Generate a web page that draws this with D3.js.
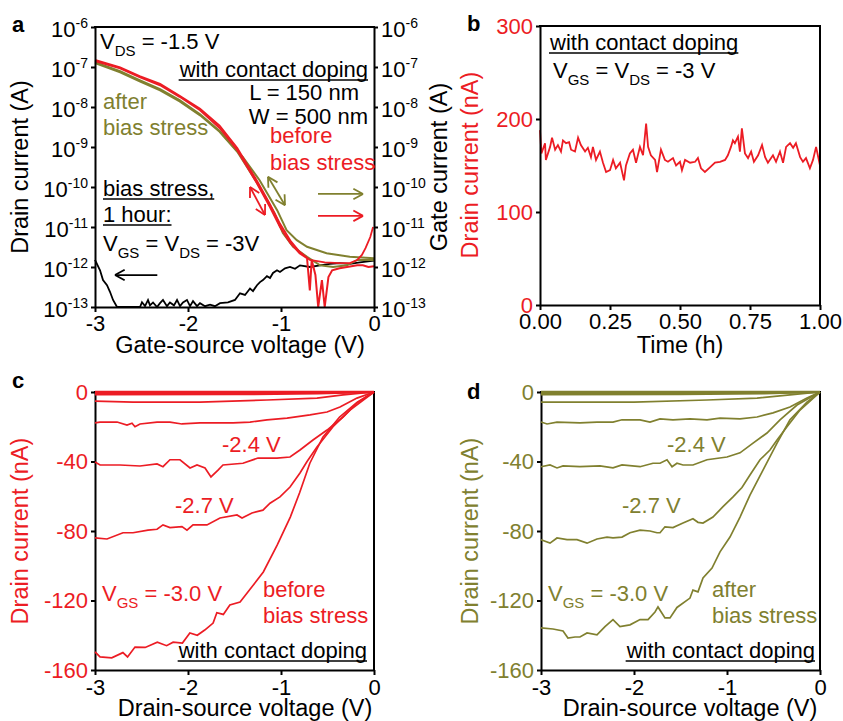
<!DOCTYPE html>
<html>
<head>
<meta charset="utf-8">
<script src="https://cdn.jsdelivr.net/npm/d3@7"></script>
<style>
body { margin: 0; background: #fff; }
text { font-family: "Liberation Sans", Arial, sans-serif; }
</style>
</head>
<body>
<div id="chart"></div>
<script>
var width = 843,
    height = 721;

var RED = '#ec1c24',
    OLIVE = '#80802f',
    FS = 22,
    TITLE_FS = 23.5;

// ---- panel a: transfer curves (V_GS in V, current in A)
var aV1 = [-3, -2.73, -2.52, -2.30, -2.09, -1.87, -1.66, -1.47, -1.26, -1.12, -1.01, -0.90, -0.80, -0.72, -0.69, -0.67, -0.63, -0.60, -0.56, -0.53, -0.49, -0.45, -0.37, -0.29, -0.18, -0.12, -0.06, 0];
var aRedFwd = [1.41e-7, 9.3e-8, 5.6e-8, 3.5e-8, 1.8e-8, 8.3e-9, 3.0e-9, 8.3e-10, 1.26e-10, 3.2e-11, 1.0e-11, 4.0e-12, 2.2e-12, 1.66e-12, 2.6e-13, 1.5e-12, 6.3e-13, 1.0e-13, 4.7e-13, 1.0e-13, 5.6e-13, 8.3e-13, 9.3e-13, 1.0e-12, 1.1e-12, 1.1e-12, 1.0e-12, 1.05e-12];

var aV2 = [-3, -2.73, -2.52, -2.30, -2.09, -1.87, -1.66, -1.47, -1.26, -1.12, -1.01, -0.90, -0.80, -0.69, -0.53, -0.37, -0.26, -0.18, -0.13, -0.09, -0.04, -0.01];
var aRedRev = [1.5e-7, 9.8e-8, 5.9e-8, 3.8e-8, 1.9e-8, 9.0e-9, 3.4e-9, 9.5e-10, 1.45e-10, 3.8e-11, 1.2e-11, 4.6e-12, 2.4e-12, 1.5e-12, 1.3e-12, 1.25e-12, 1.25e-12, 1.5e-12, 2.0e-12, 3.0e-12, 5.6e-12, 1.0e-11];

var aV3 = [-3, -2.73, -2.52, -2.30, -2.09, -1.87, -1.66, -1.47, -1.41, -1.23, -1.04, -0.94, -0.83, -0.72, -0.51, -0.26, 0];
var aOliveFwd = [1.32e-7, 7.9e-8, 4.7e-8, 2.8e-8, 1.48e-8, 6.6e-9, 2.5e-9, 7.9e-10, 5.6e-10, 1.48e-10, 2.6e-11, 8.3e-12, 4.7e-12, 3.2e-12, 2.2e-12, 1.8e-12, 1.66e-12];

var aV4 = [-3, -2.73, -2.52, -2.30, -2.09, -1.87, -1.66, -1.47, -1.26, -1.07, -0.98, -0.87, -0.72, -0.58, -0.44, -0.29, -0.18, 0];
var aOliveRev = [1.25e-7, 7.4e-8, 4.4e-8, 2.6e-8, 1.38e-8, 6.2e-9, 2.4e-9, 7.6e-10, 1.3e-10, 2.2e-11, 7.1e-12, 3.2e-12, 1.8e-12, 1.1e-12, 1.0e-12, 1.1e-12, 1.5e-12, 1.5e-12];

var aVGate = [-3, -2.946, -2.914, -2.871, -2.839, -2.806, -2.763, -2.516, -2.495, -2.462, -2.430, -2.409, -2.376, -2.333, -2.301, -2.269, -2.226, -2.194, -2.151, -2.118, -2.086, -2.054, -2.011, -1.978, -1.946, -1.903, -1.871, -1.817, -1.763, -1.710, -1.656, -1.570, -1.495, -1.441, -1.387, -1.333, -1.301, -1.258, -1.226, -1.194, -1.151, -1.118, -1.086, -1.043, -1.011, -0.957, -0.903, -0.849, -0.796, -0.688, -0.581, -0.473, -0.366, -0.258, -0.151, 0];
var aGate = [1.5e-12, 8.3e-13, 4.7e-13, 3.5e-13, 2.4e-13, 1.5e-13, 1e-13, 1e-13, 1.32e-13, 1.05e-13, 1.5e-13, 1.1e-13, 1.3e-13, 1e-13, 1.25e-13, 1.5e-13, 1.05e-13, 1.3e-13, 1.1e-13, 1.5e-13, 1.05e-13, 1.3e-13, 1.5e-13, 1.05e-13, 1.4e-13, 1.05e-13, 1.25e-13, 1.05e-13, 1.15e-13, 1.05e-13, 1.25e-13, 1.3e-13, 1.5e-13, 2.2e-13, 2.0e-13, 2.9e-13, 2.5e-13, 3.5e-13, 4.2e-13, 4.7e-13, 5.9e-13, 5.3e-13, 7.1e-13, 8.3e-13, 7.5e-13, 9.3e-13, 1.0e-12, 9.0e-13, 1.1e-12, 1.0e-12, 1.1e-12, 1.2e-12, 1.25e-12, 1.2e-12, 1.3e-12, 1.45e-12];

var aDecades = [1e-13, 1e-12, 1e-11, 1e-10, 1e-9, 1e-8, 1e-7, 1e-6];
var vTicks = [-3, -2, -1, 0];

// ---- panel b: drain current during bias stress (h, nA)
var bTime = [0, 0.005, 0.018, 0.021, 0.036, 0.043, 0.054, 0.064, 0.075, 0.082, 0.093, 0.104, 0.111, 0.125, 0.136, 0.146, 0.161, 0.171, 0.182, 0.189, 0.2, 0.214, 0.225, 0.236, 0.25, 0.261, 0.271, 0.286, 0.3, 0.307, 0.321, 0.332, 0.343, 0.357, 0.368, 0.379, 0.386, 0.396, 0.411, 0.418, 0.432, 0.446, 0.457, 0.475, 0.486, 0.5, 0.507, 0.518, 0.536, 0.554, 0.564, 0.575, 0.589, 0.607, 0.625, 0.643, 0.661, 0.671, 0.682, 0.689, 0.696, 0.707, 0.714, 0.721, 0.732, 0.743, 0.754, 0.764, 0.779, 0.793, 0.804, 0.814, 0.832, 0.843, 0.857, 0.868, 0.879, 0.893, 0.904, 0.914, 0.929, 0.939, 0.95, 0.964, 0.975, 0.986, 1.0];
var bCurrent = [188, 163, 174, 156, 170, 180, 167, 172, 165, 177, 174, 175, 167, 165, 180, 172, 165, 169, 159, 170, 156, 165, 153, 143, 145, 156, 147, 153, 134, 150, 163, 167, 153, 170, 161, 195, 170, 161, 156, 143, 167, 156, 154, 158, 150, 154, 145, 156, 153, 154, 158, 147, 143, 148, 153, 154, 156, 161, 170, 177, 174, 181, 165, 190, 163, 158, 165, 154, 161, 172, 159, 153, 161, 154, 165, 153, 170, 174, 169, 174, 159, 154, 158, 147, 156, 170, 150];
var bTicksX = [0, 0.25, 0.5, 0.75, 1];
var bTicksY = [0, 100, 200, 300];

// ---- panel c: output curves before bias stress (V_DS in V, nA)
var cVgs30 = [[-3, -149.6], [-2.946, -152.5], [-2.82, -153], [-2.70, -150], [-2.65, -152.5], [-2.57, -146.8], [-2.46, -147], [-2.33, -144], [-2.23, -146], [-2.16, -144], [-2.06, -144.5], [-1.98, -138.7], [-1.90, -140], [-1.82, -137], [-1.73, -133], [-1.69, -127], [-1.62, -128], [-1.55, -122.6], [-1.44, -120.9], [-1.31, -112], [-1.19, -103.6], [-1.04, -88], [-0.90, -72], [-0.80, -58], [-0.69, -41], [-0.55, -26], [-0.37, -14.4], [-0.18, -5.8], [0, 0]];
var cVgs27 = [[-3, -84], [-2.871, -84.6], [-2.699, -81], [-2.591, -81], [-2.430, -79.5], [-2.333, -79], [-2.269, -76.5], [-2.194, -78], [-2.065, -77.5], [-2.011, -79.5], [-1.946, -76.5], [-1.796, -76.5], [-1.656, -72.5], [-1.473, -70.8], [-1.419, -72.5], [-1.312, -69.6], [-1.194, -68], [-1.118, -64], [-1.011, -60.4], [-0.903, -54.7], [-0.796, -46.6], [-0.720, -40], [-0.613, -31.7], [-0.441, -20], [-0.258, -10.4], [0, 0]];
var cVgs24 = [[-3, -40.3], [-2.946, -42], [-2.731, -42], [-2.516, -42.6], [-2.333, -41.4], [-2.269, -43], [-2.194, -39], [-2.086, -39], [-1.978, -43.7], [-1.903, -42], [-1.817, -43.7], [-1.753, -48.9], [-1.677, -45], [-1.624, -42], [-1.409, -41], [-1.247, -38], [-1.043, -38], [-0.903, -37.4], [-0.796, -33.4], [-0.656, -27.6], [-0.505, -21.9], [-0.333, -14.4], [-0.183, -6.3], [0, 0]];
var cVgs21 = [[-3, -17.8], [-2.946, -17.3], [-2.763, -17.3], [-2.656, -19], [-2.602, -18], [-2.570, -20], [-2.516, -18.4], [-2.333, -17.3], [-2.194, -17.3], [-2.065, -18.4], [-1.871, -17.8], [-1.516, -17.8], [-1.333, -17.3], [-1.151, -16], [-0.935, -15], [-0.688, -13.2], [-0.505, -11.5], [-0.366, -8.6], [-0.183, -3.5], [0, 0]];
var cVgs18 = [[-3, -5.2], [-2.591, -5.8], [-2.23, -5.8], [-1.871, -5.8], [-1.151, -4.6], [-0.613, -3.5], [-0.333, -1.7], [0, 0]];
var cVgs15 = [[-3, -1.4], [-1.5, -1.3], [-0.6, -0.8], [0, 0]];
var cVgs12 = [[-3, -0.5], [-1, -0.45], [0, 0]];
var cVgs09 = [[-3, -0.1], [0, 0]];

// ---- panel d: output curves after bias stress
var dVgs30 = [[-3, -135.8], [-2.871, -136.4], [-2.763, -137.5], [-2.710, -141.6], [-2.634, -141], [-2.581, -141], [-2.505, -138.7], [-2.398, -139.8], [-2.312, -135], [-2.226, -131], [-2.151, -135], [-2.043, -134], [-1.935, -131], [-1.849, -131], [-1.774, -126.6], [-1.742, -123.7], [-1.667, -130], [-1.613, -130], [-1.538, -124], [-1.398, -118.6], [-1.366, -114], [-1.312, -115], [-1.258, -107], [-1.161, -101.3], [-1.075, -92], [-0.968, -83.5], [-0.860, -72], [-0.753, -59.3], [-0.613, -45], [-0.462, -29.4], [-0.323, -16], [-0.140, -5.8], [0, 0]];
var dVgs27 = [[-3, -85], [-2.903, -87], [-2.828, -84], [-2.720, -85], [-2.613, -85], [-2.505, -87], [-2.398, -84.6], [-2.290, -83.5], [-2.226, -84], [-2.129, -83.5], [-2.043, -81], [-1.935, -79.5], [-1.828, -80], [-1.753, -81], [-1.720, -81], [-1.667, -77.6], [-1.581, -78], [-1.473, -75.4], [-1.366, -73], [-1.312, -75], [-1.258, -75.4], [-1.151, -72], [-1.043, -66], [-0.935, -60.4], [-0.839, -55], [-0.753, -47.8], [-0.645, -39], [-0.538, -33.4], [-0.462, -27.6], [-0.355, -20], [-0.215, -10.4], [0, 0]];
var dVgs24 = [[-3, -43], [-2.903, -42], [-2.828, -43.7], [-2.763, -42.5], [-2.581, -43], [-2.366, -42.5], [-2.226, -43.7], [-2.129, -42], [-1.935, -43], [-1.796, -41], [-1.720, -41], [-1.645, -39], [-1.591, -43], [-1.538, -41], [-1.473, -42], [-1.366, -42], [-1.215, -39], [-1.0, -37.4], [-0.860, -35], [-0.720, -29.4], [-0.570, -23.6], [-0.430, -16], [-0.247, -7.5], [0, 0]];
var dVgs21 = [[-3, -17.3], [-2.935, -18.4], [-2.828, -17.3], [-2.581, -17.8], [-2.398, -17.3], [-2.226, -17.3], [-2.129, -16], [-1.935, -16], [-1.828, -17.3], [-1.720, -15.5], [-1.581, -16], [-1.398, -15.5], [-1.215, -16], [-1.075, -15], [-0.860, -15.5], [-0.677, -14.4], [-0.505, -12], [-0.323, -8.6], [-0.140, -3.5], [0, 0]];
var dVgs18 = [[-3, -5.8], [-2, -5.8], [-1.215, -4.6], [-0.677, -3.5], [-0.323, -1.7], [0, 0]];
var dVgs15 = [[-3, -1.4], [-1.5, -1.3], [-0.6, -0.8], [0, 0]];
var dVgs12 = [[-3, -0.5], [-1, -0.45], [0, 0]];
var dVgs09 = [[-3, -0.1], [0, 0]];

var outTicksY = [-160, -120, -80, -40, 0];

var svg = d3.select('#chart').append('svg')
    .attr('width', width)
    .attr('height', height);

// helpers
function styleAxis(g, labelColor) {
  g.attr('font-size', FS).attr('font-family', '"Liberation Sans", Arial, sans-serif');
  g.select('.domain').attr('stroke', '#000').attr('stroke-width', 2);
  g.selectAll('.tick line').attr('stroke', '#000').attr('stroke-width', 2);
  g.selectAll('.tick text').attr('fill', labelColor || '#000');
}

function expLabels(g) {
  g.selectAll('.tick text').each(function(d) {
    var t = d3.select(this);
    var e = Math.round(Math.log10(d));
    t.text(null).attr('dy', '0.42em');
    t.append('tspan').text('10');
    t.append('tspan').attr('dy', '-0.62em').attr('font-size', 14).text(String(e));
  });
}

function rich(g, x, y, parts, color, anchor) {
  var t = g.append('text')
      .attr('x', x).attr('y', y)
      .attr('fill', color || '#000')
      .attr('font-size', FS)
      .attr('text-anchor', anchor || 'start');
  var shifted = false;
  parts.forEach(function(p) {
    if (Array.isArray(p)) {
      t.append('tspan').attr('dy', 7).attr('font-size', 15).text(p[0]);
      shifted = true;
    } else {
      var s = t.append('tspan').text(p);
      if (shifted) { s.attr('dy', -7); shifted = false; }
    }
  });
  return t;
}

function underline(t) {
  var b = t.node().getBBox();
  var y = +t.attr('y') + 3;
  d3.select(t.node().parentNode).append('line')
      .attr('x1', b.x).attr('x2', b.x + b.width)
      .attr('y1', y).attr('y2', y)
      .attr('stroke', '#000').attr('stroke-width', 1.5);
}

function arrow(g, p1, p2, color, both) {
  g.append('line')
      .attr('x1', p1[0]).attr('y1', p1[1]).attr('x2', p2[0]).attr('y2', p2[1])
      .attr('stroke', color).attr('stroke-width', 1.8);
  function head(tip, from) {
    var ang = Math.atan2(tip[1] - from[1], tip[0] - from[0]);
    [-0.5, 0.5].forEach(function(da) {
      g.append('line')
          .attr('x1', tip[0]).attr('y1', tip[1])
          .attr('x2', tip[0] - 11 * Math.cos(ang + da))
          .attr('y2', tip[1] - 11 * Math.sin(ang + da))
          .attr('stroke', color).attr('stroke-width', 1.8);
    });
  }
  head(p2, p1);
  if (both) head(p1, p2);
}

function yTitle(x, y, label, color) {
  svg.append('text')
      .attr('transform', 'translate(' + x + ',' + y + ') rotate(-90)')
      .attr('text-anchor', 'middle')
      .attr('font-size', TITLE_FS)
      .attr('fill', color || '#000')
      .text(label);
}

function xTitle(x, y, label) {
  svg.append('text')
      .attr('x', x).attr('y', y)
      .attr('text-anchor', 'middle')
      .attr('font-size', TITLE_FS)
      .text(label);
}

function panelLetter(x, y, s) {
  svg.append('text').attr('x', x).attr('y', y)
      .attr('font-size', 22).attr('font-weight', 'bold').text(s);
}

// =========== panel a
var xA = d3.scaleLinear().domain([-3, 0]).range([95, 374]);
var yA = d3.scaleLog().domain([1e-13, 1e-6]).range([307, 27]).clamp(true);
var lineA = d3.line().x(function(d) { return xA(d[0]); }).y(function(d) { return yA(d[1]); });

var gA = svg.append('g');

gA.append('path').datum(d3.zip(aVGate, aGate))
    .attr('d', lineA).attr('fill', 'none').attr('stroke', '#000').attr('stroke-width', 1.8);
gA.append('path').datum(d3.zip(aV4, aOliveRev))
    .attr('d', lineA).attr('fill', 'none').attr('stroke', OLIVE).attr('stroke-width', 2);
gA.append('path').datum(d3.zip(aV3, aOliveFwd))
    .attr('d', lineA).attr('fill', 'none').attr('stroke', OLIVE).attr('stroke-width', 2);
gA.append('path').datum(d3.zip(aV2, aRedRev))
    .attr('d', lineA).attr('fill', 'none').attr('stroke', RED).attr('stroke-width', 1.8);
gA.append('path').datum(d3.zip(aV1, aRedFwd))
    .attr('d', lineA).attr('fill', 'none').attr('stroke', RED).attr('stroke-width', 2);

var axA = gA.append('g').attr('transform', 'translate(0,307)')
    .call(d3.axisBottom(xA).tickValues(vTicks).tickFormat(String).tickSize(5).tickSizeOuter(0).tickPadding(3));
styleAxis(axA);
var ayA = gA.append('g').attr('transform', 'translate(95,0)')
    .call(d3.axisLeft(yA).tickValues(aDecades).tickSize(4).tickSizeOuter(0).tickPadding(3));
styleAxis(ayA); expLabels(ayA);
var ayA2 = gA.append('g').attr('transform', 'translate(374,0)')
    .call(d3.axisRight(yA).tickValues(aDecades).tickSize(4).tickSizeOuter(0).tickPadding(3));
styleAxis(ayA2); expLabels(ayA2);
gA.append('line').attr('x1', 94).attr('x2', 375).attr('y1', 27).attr('y2', 27)
    .attr('stroke', '#000').attr('stroke-width', 2);

rich(gA, 100, 49, ['V', ['DS'], ' = -1.5 V']);
underline(rich(gA, 368, 77, ['with contact doping'], '#000', 'end'));
rich(gA, 359, 100, ['L = 150 nm'], '#000', 'end');
rich(gA, 368, 124, ['W = 500 nm'], '#000', 'end');
rich(gA, 270, 143, ['before'], RED);
rich(gA, 270, 170, ['bias stress'], RED);
rich(gA, 103, 109, ['after'], OLIVE);
rich(gA, 103, 135, ['bias stress'], OLIVE);
underline(rich(gA, 103, 196, ['bias stress,']));
underline(rich(gA, 103, 222, ['1 hour:']));
rich(gA, 103, 251, ['V', ['GS'], ' = V', ['DS'], ' = -3V']);

arrow(gA, [xA(-2.33), yA(6.3e-13)], [xA(-2.785), yA(6.3e-13)], '#000');
arrow(gA, [xA(-0.602), yA(6.7e-11)], [xA(-0.118), yA(6.7e-11)], OLIVE);
arrow(gA, [xA(-0.602), yA(1.9e-11)], [xA(-0.118), yA(1.9e-11)], RED);
arrow(gA, [xA(-1.333), yA(1.0e-10)], [xA(-1.172), yA(2.0e-11)], RED, true);
arrow(gA, [xA(-1.14), yA(1.8e-10)], [xA(-0.957), yA(3.5e-11)], OLIVE, true);

yTitle(28, 167, 'Drain current (A)');
yTitle(447, 167, 'Gate current (A)');
xTitle(240, 353, 'Gate-source voltage (V)');
panelLetter(12, 32, 'a');

// =========== panel b
var xB = d3.scaleLinear().domain([0, 1]).range([540, 820]);
var yB = d3.scaleLinear().domain([0, 300]).range([305, 26]);
var gB = svg.append('g');

gB.append('path').datum(d3.zip(bTime, bCurrent))
    .attr('d', d3.line().x(function(d) { return xB(d[0]); }).y(function(d) { return yB(d[1]); }))
    .attr('fill', 'none').attr('stroke', RED).attr('stroke-width', 1.8);

var axB = gB.append('g').attr('transform', 'translate(0,305)')
    .call(d3.axisBottom(xB).tickValues(bTicksX).tickFormat(d3.format('.2f')).tickSize(5).tickSizeOuter(0).tickPadding(3));
styleAxis(axB);
var ayB = gB.append('g').attr('transform', 'translate(540,0)')
    .call(d3.axisLeft(yB).tickValues(bTicksY).tickSize(4).tickSizeOuter(0).tickPadding(3));
styleAxis(ayB, RED);
gB.append('path').attr('d', 'M539,26H820V306')
    .attr('fill', 'none').attr('stroke', '#000').attr('stroke-width', 2);

underline(rich(gB, 550, 50, ['with contact doping']));
rich(gB, 553, 78, ['V', ['GS'], ' = V', ['DS'], ' = -3 V']);

yTitle(478, 165, 'Drain current (nA)', RED);
xTitle(680, 353, 'Time (h)');
panelLetter(467, 31, 'b');

// =========== panels c and d
function outputPanel(x0, x1, color, curves) {
  var xS = d3.scaleLinear().domain([-3, 0]).range([x0, x1]);
  var yS = d3.scaleLinear().domain([-160, 0]).range([670, 392]);
  var g = svg.append('g');
  var ax = g.append('g').attr('transform', 'translate(0,670)')
      .call(d3.axisBottom(xS).tickValues(vTicks).tickFormat(String).tickSize(5).tickSizeOuter(0).tickPadding(4));
  styleAxis(ax);
  var ay = g.append('g').attr('transform', 'translate(' + x0 + ',0)')
      .call(d3.axisLeft(yS).tickValues(outTicksY).tickFormat(String).tickSize(4).tickSizeOuter(0).tickPadding(3));
  styleAxis(ay, color);
  g.append('path').attr('d', 'M' + (x0 - 1) + ',392H' + x1 + 'V671')
      .attr('fill', 'none').attr('stroke', '#000').attr('stroke-width', 2);
  var line = d3.line().x(function(d) { return xS(d[0]); }).y(function(d) { return yS(d[1]); });
  curves.forEach(function(c, i) {
    g.append('path').datum(c).attr('d', line)
        .attr('fill', 'none').attr('stroke', color).attr('stroke-width', i < 5 ? 1.7 : 2.2);
  });
  g.append('line').attr('x1', x0).attr('x2', x1).attr('y1', yS(0)).attr('y2', yS(0))
      .attr('stroke', color).attr('stroke-width', 2.5);
  return g;
}

var gC = outputPanel(95, 374, RED, [cVgs30, cVgs27, cVgs24, cVgs21, cVgs18, cVgs15, cVgs12, cVgs09]);
rich(gC, 222, 452, ['-2.4 V'], RED);
rich(gC, 175, 513, ['-2.7 V'], RED);
rich(gC, 102, 601, ['V', ['GS'], ' = -3.0 V'], RED);
rich(gC, 263, 597, ['before'], RED);
rich(gC, 263, 623, ['bias stress'], RED);
underline(rich(gC, 367, 658, ['with contact doping'], '#000', 'end'));
yTitle(28, 531, 'Drain current (nA)', RED);
xTitle(245, 716, 'Drain-source voltage (V)');
panelLetter(12, 388, 'c');

var gD = outputPanel(541, 820, OLIVE, [dVgs30, dVgs27, dVgs24, dVgs21, dVgs18, dVgs15, dVgs12, dVgs09]);
rich(gD, 667, 452, ['-2.4 V'], OLIVE);
rich(gD, 622, 513, ['-2.7 V'], OLIVE);
rich(gD, 548, 601, ['V', ['GS'], ' = -3.0 V'], OLIVE);
rich(gD, 712, 597, ['after'], OLIVE);
rich(gD, 712, 623, ['bias stress'], OLIVE);
underline(rich(gD, 815, 658, ['with contact doping'], '#000', 'end'));
yTitle(478, 531, 'Drain current (nA)', OLIVE);
xTitle(690, 716, 'Drain-source voltage (V)');
panelLetter(467, 399, 'd');
</script>
</body>
</html>
